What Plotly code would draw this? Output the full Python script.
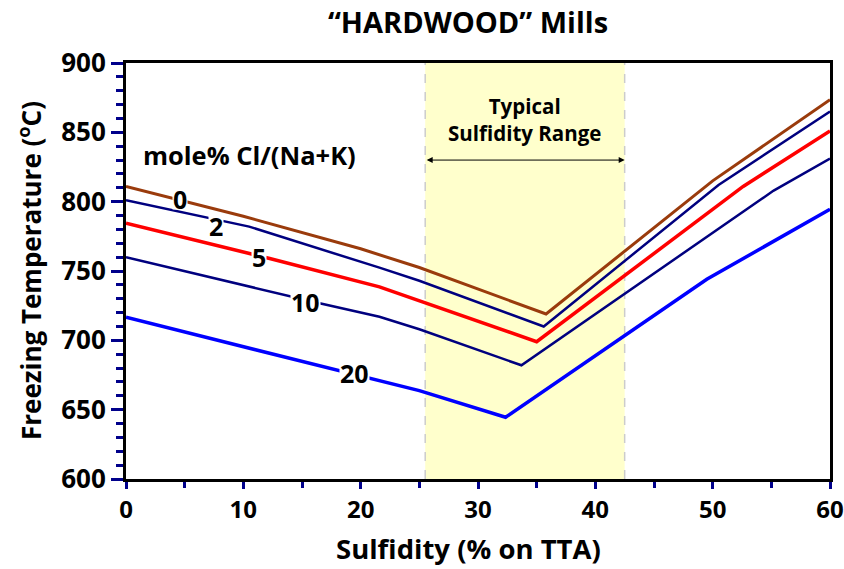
import plotly.graph_objects as go

# ---- data ----
x_cl0 = [0, 10, 20, 25, 35.8, 50, 60]
y_cl0 = [811, 789.5, 766, 752.5, 719, 815, 873.5]

x_cl2 = [0, 10.5, 21.6, 25, 35.6, 50.5, 60]
y_cl2 = [801, 782, 752.4, 743, 710, 812, 865]

x_cl5 = [0, 12.25, 21.6, 25, 34.4, 35, 52.6, 60]
y_cl5 = [784.5, 759, 738.6, 728.6, 700.7, 699, 811, 851]

x_cl10 = [0, 16.5, 21.6, 25, 33.7, 55.2, 60]
y_cl10 = [760, 726.7, 717, 708, 682, 808, 831]

x_cl20 = [0, 21.6, 25, 32.35, 49.5, 60]
y_cl20 = [716.6, 671.4, 663.7, 644.5, 744, 794.6]

series_labels = ["0", "2", "5", "10", "20"]
label_x = [4.6, 7.7, 11.3, 15.3, 19.5]
label_y = [801.6, 782.4, 760.2, 727.8, 676.2]

range_lo, range_hi = 25.5, 42.5
arrow_y = 830

x_ticks = [0, 10, 20, 30, 40, 50, 60]
y_ticks = [600, 650, 700, 750, 800, 850, 900]

FONT = "Open Sans"
PW, PH = 704, 416  # plot area size in px (for paper-coordinate text placement)

fig = go.Figure()

series = [
    (x_cl0, y_cl0, "#9a3b0c", 3),
    (x_cl2, y_cl2, "#00007f", 2.5),
    (x_cl5, y_cl5, "#ff0000", 3.5),
    (x_cl10, y_cl10, "#00007f", 2.5),
    (x_cl20, y_cl20, "#0000ff", 3.5),
]
for (xs, ys, c, w), name in zip(series, series_labels):
    fig.add_trace(go.Scatter(x=xs, y=ys, mode="lines", name=name,
                             line=dict(color=c, width=w), showlegend=False))

# typical sulfidity range shading
fig.add_shape(type="rect", xref="x", yref="paper", x0=range_lo, x1=range_hi, y0=0, y1=1,
              fillcolor="#ffffcc", line=dict(width=0), layer="below")
for xv in (range_lo, range_hi):
    fig.add_shape(type="line", xref="x", yref="paper", x0=xv, x1=xv, y0=0, y1=1,
                  line=dict(color="#cccccc", width=1.5, dash="dash"), layer="below")

# double arrow
fig.add_annotation(x=range_hi, y=arrow_y, ax=range_lo, ay=arrow_y, xref="x", yref="y",
                   axref="x", ayref="y", showarrow=True, arrowhead=2, arrowside="end+start",
                   arrowsize=1.2, arrowwidth=1, arrowcolor="black", text="")
fig.add_annotation(x=(range_lo + range_hi) / 2, y=859, xref="x", yref="y",
                   text="Typical<br>Sulfidity Range", showarrow=False,
                   font=dict(family=FONT, size=20.5, color="black", weight="bold"))

fig.add_annotation(x=1.3, y=834, xref="x", yref="y", xanchor="left",
                   text="mole% Cl/(Na+K)", showarrow=False,
                   font=dict(family=FONT, size=25.5, color="black", weight="bold"))

for t, lx, ly in zip(series_labels, label_x, label_y):
    fig.add_annotation(x=lx, y=ly, xref="x", yref="y", text=t, showarrow=False,
                       bgcolor="white", borderpad=0, height=20,
                       font=dict(family=FONT, size=25, color="black", weight="bold"))

# axis titles as annotations for precise placement
fig.add_annotation(x=(468 - 126) / PW, y=-69 / PH, xref="paper", yref="paper",
                   text="Sulfidity (% on TTA)", showarrow=False, yanchor="middle",
                   font=dict(family=FONT, size=27.5, color="black", weight="bold"))
fig.add_annotation(x=(30 - 126) / PW, y=0.5, xref="paper", yref="paper", textangle=-90,
                   text="Freezing Temperature (<sup>o</sup>C)", showarrow=False,
                   xanchor="center", yanchor="middle",
                   font=dict(family=FONT, size=26, color="black", weight="bold"))

fig.update_layout(
    width=844, height=569,
    margin=dict(l=126, r=14, t=63, b=90, autoexpand=False),
    plot_bgcolor="white", paper_bgcolor="white",
    title=dict(text="“HARDWOOD” Mills", x=468 / 844, xanchor="center", y=1 - 23 / 569,
               yanchor="middle", font=dict(family=FONT, size=29, color="black", weight="bold")),
)

fig.update_xaxes(range=[0, 60], tickvals=x_ticks, ticks="outside", ticklen=7, tickwidth=2.5,
                 tickcolor="#00008b", showline=True, linecolor="black", linewidth=3, mirror=True,
                 showgrid=False, zeroline=False, automargin=False, ticklabeloverflow="allow",
                 tickfont=dict(family=FONT, size=24, color="black", weight="bold"),
                 minor=dict(dtick=5, ticks="outside", ticklen=6, tickwidth=2.5, tickcolor="#00008b"))
fig.update_yaxes(range=[600, 900], tickvals=y_ticks, ticks="outside", ticklen=12, tickwidth=2.5,
                 tickcolor="#00008b", showline=True, linecolor="black", linewidth=3, mirror=True,
                 showgrid=False, zeroline=False, automargin=False, ticklabeloverflow="allow",
                 tickfont=dict(family=FONT, size=26, color="black", weight="bold"),
                 minor=dict(dtick=10, ticks="outside", ticklen=7, tickwidth=2.5, tickcolor="#00008b"))

fig.write_html("out.html")
